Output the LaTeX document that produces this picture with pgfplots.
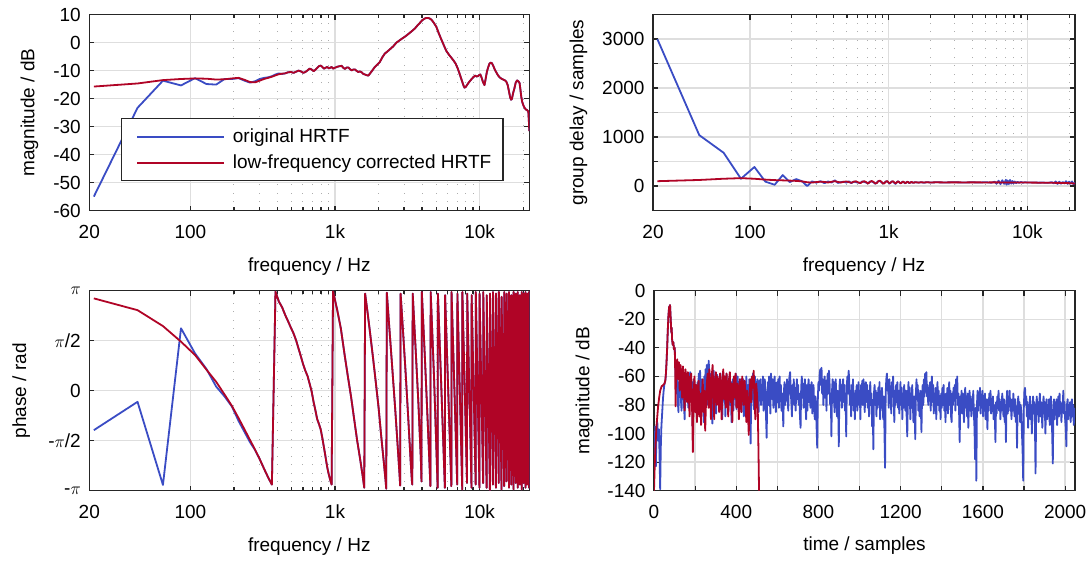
\documentclass[border=0pt]{standalone}
\usepackage{fontspec}
\setmainfont{Liberation Sans}
\usepackage{pgfplots}
\usepackage{pgfplotstable}
\pgfplotsset{compat=1.18}
\definecolor{cblue}{RGB}{58,76,196}
\definecolor{cred}{RGB}{176,4,38}
\definecolor{gridc}{RGB}{222,222,222}
\definecolor{axc}{RGB}{38,38,38}
\newcommand{\fs}{\fontsize{19}{23}\selectfont}
\pgfplotsset{
 hrtf/.style={scale only axis, anchor=south west, font=\fs,
  axis line style={axc,line width=1.5pt},
  tick style={axc,line width=1.2pt},
  major tick length=5pt, minor tick length=3.5pt,
  grid=major, major grid style={gridc,line width=1.3pt},
  minor grid style={black!32,line width=1pt,dash pattern=on 1pt off 7.5pt},
  xticklabel style={font=\fs, yshift=-11pt},
  yticklabel style={font=\fs, xshift=-5pt},
  every axis plot/.append style={line width=1.8pt, line join=round},
  xlabel style={font=\fs, at={(axis description cs:0.5,-0.2857)}, anchor=center},
  ylabel style={font=\fs},
 },
 hrtflegend/.style={
  legend style={draw=axc, line width=1.2pt, fill=white, font=\fs,
    inner xsep=9.7pt, inner ysep=8.5pt, row sep=6.75pt,
    /tikz/every odd column/.append style={column sep=6pt}},
  legend cell align=left,
  legend image code/.code={\path[draw=none,fill=none] (-6pt,-6.5pt) rectangle (87pt,0pt);\draw[##1] (0pt,0pt) -- (87pt,0pt);},
 },
}
\pgfplotstableread{
f v
452.2 -11.0
473.7 -10.6
495.3 -10.5
516.8 -10.8
538.3 -10.4
559.9 -10.0
581.4 -10.3
602.9 -10.8
624.5 -10.5
646 -9.9
667.5 -9.3
689.1 -9.6
710.6 -10.2
732.1 -9.7
753.7 -9.0
775.2 -8.4
796.7 -8.2
818.3 -8.7
839.8 -9.3
861.3 -9.0
882.9 -8.7
904.4 -9.2
925.9 -9.0
947.5 -8.7
969 -9.3
1027 -8.7
1060 -8.5
1111 -8.3
1140 -9.0
1172 -9.4
1205 -8.9
1236 -8.9
1270 -9.5
1303 -9.9
1340 -9.6
1374 -9.6
1410 -10.1
1449 -10.5
1490 -10.3
1527 -10.6
1570 -11.2
1610 -11.4
1650 -11.6
1698 -11.8
1730 -11.3
1761 -10.8
1887 -8.7
2043 -6.9
2120 -5.3
2212 -3.9
2300 -3.2
2395 -2.4
2520 -1.4
2662 0.0
2780 0.7
2882 1.3
3040 2.1
3204 3.0
3380 4.0
3562 5.0
3700 6.0
3856 7.0
4010 8.0
4174 8.6
4290 8.8
4400 8.8
4520 8.6
4638 8.2
4820 7.1
5022 5.6
5220 3.3
5436 1.1
5660 -1.0
5886 -3.0
6130 -4.3
6372 -5.4
6600 -6.4
6823 -7.5
7050 -9.2
7267 -11.1
7420 -12.5
7582 -14.0
7730 -15.3
7870 -16.1
8020 -15.8
8170 -15.2
8450 -14.1
8740 -13.2
9020 -12.4
9310 -11.8
9510 -12.1
9710 -12.0
9920 -11.6
10120 -11.4
10330 -12.6
10530 -14.0
10800 -15.2
11000 -13.0
11220 -10.5
11460 -8.8
11700 -7.5
11920 -7.2
12140 -7.3
12400 -8.2
12650 -9.3
13000 -10.5
13390 -11.7
13760 -12.4
14160 -12.9
14560 -13.2
14980 -13.5
15300 -14.0
15640 -15.2
15950 -17.4
16260 -19.6
16500 -20.4
16720 -20.1
17050 -18.0
17390 -16.4
17760 -14.3
18160 -13.5
18500 -13.8
18880 -14.4
19150 -16.8
19400 -19.3
19700 -21.2
20060 -22.4
20460 -23.3
20860 -23.9
21280 -24.1
21700 -24.6
21900 -28.0
22050 -31.6
}\magshared
\pgfplotstableread{
f v
409.1 2.80
430.7 2.62
452.2 2.38
473.7 2.18
495.3 1.98
516.8 1.80
538.3 1.58
559.9 1.32
581.4 1.07
602.9 0.82
624.5 0.62
646 0.46
667.5 0.22
689.1 -0.02
710.6 -0.35
732.1 -0.62
753.7 -0.90
775.2 -1.05
796.7 -1.22
818.3 -1.50
839.8 -1.80
861.3 -2.10
882.9 -2.40
904.4 -2.62
925.9 -2.80
947.5 -2.95
969 3.12
1034 2.55
1098 1.95
1163 1.15
1227 0.45
1292 -0.20
1357 -0.90
1421 -1.55
1486 -2.10
1550 -2.65
1593 -3.05
1615 3.05
1680 2.45
1744 1.85
1830 1.05
1916 0.25
2003 -0.55
2089 -1.45
2175 -2.25
2239 -2.85
2261 -3.08
2282 3.08
2368 2.05
2476 0.85
2605 -0.55
2713 -1.75
2799 -2.70
2821 -2.98
2842 3.05
2950 1.90
3079 0.55
3208 -0.85
3338 -2.25
3402 -2.85
3424 -2.95
3445 3.05
3596 1.45
3768 -0.35
3919 -2.10
3962 -2.85
3984 3.10
4177 1.10
4371 -0.95
4543 -2.75
4565 -3.00
4587 3.10
4845 0.35
5103 -2.80
5125 -3.05
5146 3.05
5448 -0.05
5749 -3.05
5771 3.00
6374 -3.00
6395 3.10
6998 -2.95
7020 3.05
7580 -3.10
7601 3.10
8182 -2.90
8204 3.05
8785 -3.05
8807 3.00
9388 -2.95
9410 3.10
9970 -3.05
9991 3.05
10572 -2.90
10594 3.10
11175 -3.05
11197 3.00
11778 -3.12
11800 3.05
12360 -2.95
12381 3.10
12962 -3.05
12984 3.05
13565 -2.90
13587 3.10
14168 -3.10
14190 2.95
14771 -3.00
14793 3.10
15353 -2.85
15374 3.05
15956 -3.05
15977 3.10
16558 -2.95
16580 3.00
17161 -3.10
17183 3.10
17764 -2.90
17786 3.05
18346 -3.05
18367 3.10
18948 -2.95
18970 3.00
19551 -3.10
19573 3.10
20154 -2.90
20176 3.05
20757 -3.05
20779 3.10
21339 -2.95
21360 3.05
21941 -3.05
21963 3.10
22050 2.20
}\phshared
\begin{document}
\begin{tikzpicture}
\useasboundingbox (0pt,0pt) rectangle (1088pt,561pt);
% ---------------- top left: magnitude
\begin{axis}[hrtf, hrtflegend, xmode=log, xmin=20, xmax=22050,
  xtick={20,100,1000,10000}, xticklabels={20,100,1k,10k},
  minor xtick={200,300,400,500,600,700,800,900,2000,3000,4000,5000,6000,7000,8000,9000,20000},
  xminorgrids=true, xlabel={frequency / Hz},
  /pgf/number format/assume math mode=true,
  at={(89.3pt,350.4pt)}, width=440pt, height=196pt,
  ymin=-60, ymax=10, ytick={-60,-50,...,10},
  ylabel={magnitude / dB},
  ylabel style={at={(axis description cs:-0.136,0.5)}, anchor=center},
  legend style={at={(axis description cs:0.0714,0.4725)}, anchor=north west},
]
\addplot[cblue] coordinates {(21.5,-55.0)(43.1,-23.3)(64.6,-13.6)(86.1,-15.3)(107.7,-12.7)(129.2,-14.8)(150.7,-15.0)(172.3,-13.0)(193.8,-13.0)(215.3,-12.7)(236.9,-13.6)(258.4,-14.3)(279.9,-13.8)(301.5,-13.0)(323,-12.6)(344.5,-12.4)(366.1,-12.0)(387.6,-11.4)(409.1,-11.0)(430.7,-11.2)(452.2,-11.0)};
\addlegendentry{original HRTF}
\addplot[cred] coordinates {(21.5,-15.7)(43.1,-14.6)(64.6,-13.4)(86.1,-13.0)(107.7,-12.8)(129.2,-12.9)(150.7,-13.2)(172.3,-13.1)(193.8,-12.8)(215.3,-12.6)(236.9,-13.3)(258.4,-14.1)(279.9,-14.2)(301.5,-13.6)(323,-13.0)(344.5,-12.6)(366.1,-12.2)(387.6,-11.7)(409.1,-11.3)(430.7,-11.1)(452.2,-11.0)};
\addlegendentry{low-frequency corrected HRTF}
\addplot[cblue, forget plot] table[x=f,y=v] {\magshared};
\addplot[cred, forget plot] table[x=f,y=v] {\magshared};
\end{axis}
% ---------------- top right: group delay
\begin{axis}[hrtf, xmode=log, xmin=20, xmax=22050,
  xtick={20,100,1000,10000}, xticklabels={20,100,1k,10k},
  minor xtick={200,300,400,500,600,700,800,900,2000,3000,4000,5000,6000,7000,8000,9000,20000},
  xminorgrids=true, xlabel={frequency / Hz},
  /pgf/number format/assume math mode=true,
  at={(653pt,350.4pt)}, width=422pt, height=196pt,
  ymin=-500, ymax=3500, ytick={-500,0,500,1000,1500,2000,2500,3000,3500},
  yticklabels={,0,,1000,,2000,,3000,},
  ylabel={group delay / samples},
  ylabel style={at={(axis description cs:-0.1765,0.5)}, anchor=center},
]
\addplot[cblue] coordinates {(21.5,3000)(43.1,1040)(64.6,680)(86.1,150)(107.7,390)(129.2,90)(150.7,27)(172.3,224)(193.8,82)(215.3,143)(236.9,100)(258.4,0)(279.9,95)(301.5,70)(323,100)(344.5,60)(366.1,95)(387.6,72)(409.1,118)(430.7,64)(452.2,80)(473.7,90)(495.3,70)(516.8,96)(538.3,60)(559.9,92)(581.4,80)(602.9,70)(624.5,64)(646,96)(667.5,86)(689.1,70)(710.6,58)(732.1,92)(753.7,96)(775.2,80)(796.7,52)(818.3,64)(839.8,100)(861.3,104)(882.9,84)(904.4,58)(925.9,60)(947.5,90)(969,98)(990.5,80)(1012,50)(1034,74)(1055,96)(1077,90)(1098,66)(1120,44)(1141,76)(1163,98)(1184,84)(1206,60)(1227,62)(1249,84)(1270,90)(1292,72)(1314,56)(1335,72)(1357,90)(1378,80)(1400,62)(1421,70)(1443,82)(1464,78)(1486,70)(1507,72)(1550,78)(1600,74)(1650,72)(1700,78)(1800,70)(1900,80)(2000,72)(2200,78)(2500,74)(3000,78)(3500,72)(4000,78)(4500,72)(5000,80)(5500,68)(5800,90)(6000,50)(6200,110)(6400,40)(6600,120)(6800,45)(7000,130)(7100,30)(7200,115)(7350,40)(7500,125)(7650,50)(7800,105)(7950,55)(8100,95)(8300,60)(8500,90)(8700,65)(9000,85)(9300,68)(9600,80)(10000,72)(11000,74)(12000,70)(13000,72)(14000,66)(15000,80)(15500,55)(16000,95)(16500,45)(17000,90)(17500,50)(18000,85)(18500,55)(19000,100)(19500,45)(20000,90)(20500,50)(21000,95)(21500,40)(22050,70)};
\addplot[cred] coordinates {(21.5,100)(43.1,125)(64.6,150)(86.1,162)(107.7,150)(129.2,132)(150.7,122)(172.3,117)(193.8,112)(215.3,106)(236.9,96)(258.4,78)(279.9,72)(301.5,82)(323,90)(344.5,84)(366.1,74)(387.6,88)(409.1,100)(430.7,84)(452.2,74)(473.7,86)(495.3,96)(516.8,80)(538.3,68)(559.9,88)(581.4,98)(602.9,76)(624.5,60)(646,86)(667.5,100)(689.1,80)(710.6,52)(732.1,82)(753.7,104)(775.2,88)(796.7,56)(818.3,58)(839.8,96)(861.3,112)(882.9,92)(904.4,60)(925.9,52)(947.5,82)(969,104)(990.5,86)(1012,58)(1034,68)(1055,92)(1077,98)(1098,74)(1120,56)(1141,70)(1163,94)(1184,90)(1206,66)(1227,58)(1249,78)(1270,92)(1292,80)(1314,62)(1335,66)(1357,84)(1378,86)(1400,70)(1421,64)(1443,76)(1464,84)(1486,76)(1507,66)(1529,70)(1550,80)(1600,76)(1650,70)(1700,78)(1800,74)(1900,78)(2000,74)(2200,77)(2500,75)(3000,76)(3500,75)(4000,76)(5000,75)(6000,76)(7000,74)(8000,72)(9000,74)(10000,72)(12000,70)(14000,68)(16000,66)(18000,64)(20000,60)(22050,52)};
\end{axis}
% ---------------- bottom left: phase
\begin{axis}[hrtf, xmode=log, xmin=20, xmax=22050,
  xtick={20,100,1000,10000}, xticklabels={20,100,1k,10k},
  minor xtick={200,300,400,500,600,700,800,900,2000,3000,4000,5000,6000,7000,8000,9000,20000},
  xminorgrids=true, xlabel={frequency / Hz},
  at={(89.3pt,70.3pt)}, width=440pt, height=200pt,
  ymin=-3.14159, ymax=3.14159, ytick={-3.14159,-1.570796,0,1.570796,3.14159},
  yticklabels={-$\pi$,-$\pi$/2,0,$\pi$/2,$\pi$},
  ylabel={phase / rad},
  ylabel style={at={(axis description cs:-0.155,0.5)}, anchor=center},
  xlabel style={at={(axis description cs:0.5,-0.277)}},
]
\addplot[cblue] coordinates {(21.5,-1.24)(43.1,-0.35)(64.6,-2.96)(86.1,1.96)(107.7,1.17)(129.2,0.68)(150.7,0.13)(172.3,-0.18)(193.8,-0.50)(215.3,-0.95)(236.9,-1.30)(258.4,-1.62)(279.9,-1.86)(301.5,-2.15)(323,-2.45)(344.5,-2.72)(366.1,-2.95)(387.6,3.11)(409.1,2.80)};
\addplot[cblue] table[x=f,y=v] {\phshared};
\addplot[cred] coordinates {(21.5,2.90)(43.1,2.53)(64.6,2.03)(86.1,1.54)(107.7,1.12)(129.2,0.66)(150.7,0.28)(172.3,-0.12)(193.8,-0.48)(215.3,-0.86)(236.9,-1.22)(258.4,-1.55)(279.9,-1.85)(301.5,-2.15)(323,-2.45)(344.5,-2.72)(366.1,-2.95)(387.6,3.11)(409.1,2.80)};
\addplot[cred] table[x=f,y=v] {\phshared};
\end{axis}
% ---------------- bottom right: impulse responses
\begin{axis}[hrtf, /pgf/number format/assume math mode=true,
  at={(654pt,70.3pt)}, width=421pt, height=200pt,
  xmin=0, xmax=2048, ymin=-140, ymax=0,
  xtick={0,200,...,2000}, xticklabels={0,,400,,800,,1200,,1600,,2000},
  ytick={-140,-120,...,0},
  xlabel={time / samples},
  xlabel style={at={(axis description cs:0.5,-0.2725)}},
  ylabel={magnitude / dB},
  ylabel style={at={(axis description cs:-0.165,0.5)}, anchor=center},
]
\addplot[cblue] coordinates {(0,-100)(3,-118)(6,-95)(9,-123)(12,-100)(16,-92)(20,-105)(24,-97)(27,-115)(30,-139)(33,-110)(36,-95)(40,-85)(44,-75)(47,-70)(50,-66)(53,-64)(56,-62)(58,-58)(61,-50)(64,-40)(67,-28)(70,-18)(72,-14)(74,-11)(76,-13)(78,-10)(80,-16)(82,-22)(84,-29)(86,-26)(88,-34)(91,-38)(94,-36)(97,-41)(101,-40)
(104,-55)(107,-66)(110,-72)(113,-60)(116,-78)(119,-85)(122,-64)(125,-70)(128,-58)(131,-76)
(134,-84)(137,-66)(140,-70)(143,-62)(146,-80)(149,-90)(152,-68)(155,-65)(158,-75)(161,-60)
(164,-72)(167,-82)(170,-66)(173,-68)(176,-57)(179,-74)(182,-78)(185,-64)(188,-95)(191,-70)
(194,-62)(197,-76)(200,-80)(203,-66)(206,-72)(209,-88)(212,-64)(215,-70)(218,-58)(221,-74)
(224,-56)(227,-68)(230,-85)(233,-62)(236,-72)(239,-70)(242,-92)(245,-60)(248,-66)(251,-55)
(254,-72)(257,-52)(260,-64)(263,-80)(266,-49)(269,-58)(272,-66)(275,-80)(278,-58)(281,-70)
(284,-93)(287,-64)(290,-56)(293,-72)(296,-78)(299,-60)(302,-86)(305,-68)(308,-59)(311,-75)
(314,-62)(317,-84)(320,-66)(323,-58)(326,-79)(329,-64)(332,-90)(335,-70)(338,-61)(341,-77)
(344,-60)(347,-88)(350,-66)(353,-58)(356,-74)(359,-63)(362,-85)(365,-69)(368,-60)(371,-80)
(374,-64)(377,-92)(380,-70)(383,-62)(386,-84)(389,-74)(392,-60)(395,-76)(398,-58)(401,-83)
(404,-68)(407,-60)(410,-78)(413,-64)(416,-81)(419,-62)(422,-70)(425,-85)(428,-63)(431,-72)
(434,-62)(437,-88)(440,-72)(443,-64)(446,-80)(449,-60)(452,-72)(455,-86)(458,-66)(461,-76)
(464,-62)(467,-80)(470,-107)(473,-70)(476,-60)(479,-76)(482,-58)(485,-83)(488,-68)(491,-60)
(494,-78)(497,-64)(500,-81)(503,-62)(506,-70)(509,-85)(512,-63)(515,-72)(518,-62)(521,-80)
(524,-66)(527,-74)(530,-60)(533,-84)(536,-68)(539,-62)(542,-76)(545,-88)(548,-103)(551,-72)
(554,-64)(557,-80)(560,-60)(563,-72)(566,-86)(569,-58)(572,-66)(575,-76)(578,-62)(581,-82)
(584,-68)(587,-60)(590,-74)(593,-85)(596,-70)(599,-64)(602,-78)(605,-62)(608,-82)(611,-60)
(614,-74)(617,-66)(620,-84)(623,-72)(626,-80)(629,-95)(632,-70)(635,-64)(638,-80)(641,-66)
(644,-77)(647,-62)(650,-74)(653,-84)(656,-66)(659,-60)(662,-57)(665,-70)(668,-78)(671,-88)
(674,-66)(677,-74)(680,-62)(683,-80)(686,-68)(689,-84)(692,-70)(695,-62)(698,-76)(701,-66)
(704,-80)(707,-72)(710,-88)(713,-96)(716,-68)(719,-60)(722,-75)(725,-65)(728,-82)(731,-70)
(734,-62)(737,-78)(740,-90)(743,-66)(746,-84)(749,-70)(752,-62)(755,-78)(758,-66)(761,-82)
(764,-70)(767,-64)(770,-86)(773,-74)(776,-66)(779,-80)(782,-90)(785,-74)(788,-82)(791,-96)
(794,-110)(797,-76)(800,-64)(803,-70)(806,-58)(809,-55)(812,-66)(815,-54)(818,-72)(821,-62)
(824,-80)(827,-66)(830,-60)(833,-75)(836,-63)(839,-84)(842,-66)(845,-58)(848,-72)(851,-56)
(854,-64)(857,-80)(860,-72)(863,-102)(866,-70)(869,-62)(872,-78)(875,-64)(878,-85)(881,-70)
(884,-62)(887,-76)(890,-88)(893,-70)(896,-80)(899,-109)(902,-68)(905,-62)(908,-77)(911,-66)
(914,-82)(917,-70)(920,-62)(923,-78)(926,-66)(929,-84)(932,-72)(935,-102)(938,-66)(941,-60)
(944,-72)(947,-56)(950,-64)(953,-80)(956,-70)(959,-88)(962,-66)(965,-76)(968,-62)(971,-84)
(974,-72)(977,-90)(980,-70)(983,-78)(986,-66)(989,-84)(992,-74)(995,-64)(998,-80)(1001,-70)
(1004,-90)(1007,-66)(1010,-74)(1013,-63)(1016,-80)(1019,-62)(1022,-70)(1025,-85)(1028,-72)(1031,-64)
(1034,-78)(1037,-66)(1040,-82)(1043,-70)(1046,-88)(1049,-74)(1052,-64)(1055,-80)(1058,-72)(1061,-95)
(1064,-80)(1067,-111)(1070,-72)(1073,-66)(1076,-80)(1079,-70)(1082,-88)(1085,-72)(1088,-82)(1091,-68)
(1094,-78)(1097,-64)(1100,-90)(1103,-74)(1106,-82)(1109,-68)(1112,-78)(1115,-90)(1118,-74)(1121,-98)
(1124,-124)(1127,-72)(1130,-62)(1133,-58)(1136,-70)(1139,-66)(1142,-82)(1145,-62)(1148,-74)(1151,-68)
(1154,-86)(1157,-64)(1160,-74)(1163,-60)(1166,-76)(1169,-92)(1172,-70)(1175,-80)(1178,-66)(1181,-74)
(1184,-64)(1187,-82)(1190,-70)(1193,-86)(1196,-74)(1199,-64)(1202,-80)(1205,-68)(1208,-90)(1211,-72)
(1214,-82)(1217,-66)(1220,-76)(1223,-84)(1226,-70)(1229,-88)(1232,-102)(1235,-74)(1238,-64)(1241,-80)
(1244,-68)(1247,-90)(1250,-72)(1253,-82)(1256,-66)(1259,-78)(1262,-92)(1265,-74)(1268,-86)(1271,-104)
(1274,-72)(1277,-62)(1280,-76)(1283,-66)(1286,-84)(1289,-72)(1292,-88)(1295,-70)(1298,-80)(1301,-99)
(1304,-74)(1307,-66)(1310,-80)(1313,-62)(1316,-74)(1319,-58)(1322,-70)(1325,-57)(1328,-74)(1331,-66)
(1334,-80)(1337,-68)(1340,-76)(1343,-64)(1346,-84)(1349,-70)(1352,-60)(1355,-78)(1358,-66)(1361,-86)
(1364,-72)(1367,-80)(1370,-68)(1373,-90)(1376,-72)(1379,-64)(1382,-80)(1385,-70)(1388,-84)(1391,-74)
(1394,-90)(1397,-72)(1400,-82)(1403,-68)(1406,-76)(1409,-66)(1412,-84)(1415,-74)(1418,-92)(1421,-72)
(1424,-80)(1427,-68)(1430,-86)(1433,-74)(1436,-64)(1439,-80)(1442,-70)(1445,-88)(1448,-92)(1451,-72)
(1454,-80)(1457,-68)(1460,-76)(1463,-66)(1466,-84)(1469,-62)(1472,-74)(1475,-60)(1478,-80)(1481,-72)
(1484,-84)(1487,-106)(1490,-74)(1493,-82)(1496,-70)(1499,-86)(1502,-72)(1505,-80)(1508,-92)(1511,-74)
(1514,-68)(1517,-82)(1520,-76)(1523,-88)(1526,-72)(1529,-96)(1532,-80)(1535,-70)(1538,-84)(1541,-74)
(1544,-88)(1547,-76)(1550,-82)(1553,-70)(1556,-86)(1559,-96)(1562,-118)(1565,-82)(1568,-133)(1571,-80)
(1574,-70)(1577,-84)(1580,-72)(1583,-78)(1586,-68)(1589,-86)(1592,-74)(1595,-82)(1598,-70)(1601,-88)
(1604,-74)(1607,-80)(1610,-72)(1613,-90)(1616,-76)(1619,-84)(1622,-97)(1625,-76)(1628,-84)(1631,-72)
(1634,-80)(1637,-70)(1640,-86)(1643,-76)(1646,-82)(1649,-74)(1652,-90)(1655,-80)(1658,-88)(1661,-106)
(1664,-78)(1667,-86)(1670,-74)(1673,-80)(1676,-70)(1679,-84)(1682,-76)(1685,-90)(1688,-78)(1691,-84)
(1694,-72)(1697,-80)(1700,-88)(1703,-76)(1706,-92)(1709,-80)(1712,-106)(1715,-78)(1718,-70)(1721,-86)
(1724,-74)(1727,-80)(1730,-70)(1733,-84)(1736,-76)(1739,-90)(1742,-78)(1745,-84)(1748,-72)(1751,-80)
(1754,-88)(1757,-76)(1760,-92)(1763,-82)(1766,-110)(1769,-80)(1772,-74)(1775,-86)(1778,-78)(1781,-92)
(1784,-80)(1787,-86)(1790,-100)(1793,-112)(1796,-133)(1799,-82)(1802,-70)(1805,-68)(1808,-80)(1811,-74)
(1814,-88)(1817,-78)(1820,-96)(1823,-80)(1826,-86)(1829,-74)(1832,-90)(1835,-80)(1838,-100)(1841,-84)
(1844,-74)(1847,-86)(1850,-78)(1853,-92)(1856,-128)(1859,-84)(1862,-74)(1865,-86)(1868,-78)(1871,-92)
(1874,-80)(1877,-72)(1880,-88)(1883,-78)(1886,-84)(1889,-96)(1892,-80)(1895,-74)(1898,-86)(1901,-78)
(1904,-100)(1907,-82)(1910,-76)(1913,-90)(1916,-80)(1919,-86)(1922,-76)(1925,-94)(1928,-82)(1931,-74)
(1934,-88)(1937,-100)(1940,-121)(1943,-82)(1946,-76)(1949,-90)(1952,-80)(1955,-86)(1958,-76)(1961,-94)
(1964,-82)(1967,-74)(1970,-88)(1973,-72)(1976,-86)(1979,-78)(1982,-92)(1985,-80)(1988,-84)(1991,-70)
(1994,-86)(1997,-78)(2000,-90)(2003,-96)(2006,-109)(2009,-80)(2012,-76)(2015,-90)(2018,-80)(2021,-84)
(2024,-78)(2027,-92)(2030,-82)(2033,-76)(2036,-88)(2039,-80)(2042,-94)(2045,-84)(2047,-82)};
\addplot[cred] coordinates {(0,-140)(3,-125)(7,-109)(12,-95)(16,-88)(20,-81)(25,-75)(30,-70)(37,-67)(44,-66)(51,-65)(55,-63)(58,-58)(61,-50)(64,-40)(67,-28)(70,-18)(72,-14)(74,-11)(76,-13)(78,-10)(80,-16)(82,-22)(84,-29)(86,-26)(88,-34)(91,-38)(94,-36)(97,-41)(101,-40)(103,-55)(105,-81)(107,-60)(110,-52)
(113,-48)(117,-62)(121,-50)(125,-70)(129,-52)(133,-58)(137,-75)(141,-53)(145,-66)(149,-84)
(153,-55)(157,-62)(161,-78)(165,-57)(169,-70)(173,-88)(177,-60)(181,-58)(185,-80)(189,-113)
(193,-72)(197,-60)(201,-85)(205,-66)(209,-92)(213,-70)(217,-63)(221,-88)(225,-72)(229,-94)
(233,-75)(237,-62)(241,-85)(245,-70)(249,-98)(253,-78)(257,-65)(261,-58)(265,-82)(269,-55)
(273,-70)(277,-90)(281,-60)(285,-52)(289,-75)(293,-90)(297,-62)(301,-57)(305,-80)(309,-60)
(313,-70)(317,-85)(321,-58)(325,-68)(329,-90)(333,-62)(337,-55)(341,-76)(345,-60)(349,-82)
(353,-58)(357,-72)(361,-88)(365,-62)(369,-57)(373,-78)(377,-65)(381,-92)(385,-68)(389,-60)
(393,-75)(397,-58)(401,-82)(405,-65)(409,-73)(413,-90)(417,-62)(421,-70)(425,-85)(429,-60)
(433,-67)(437,-80)(441,-63)(445,-74)(449,-92)(453,-70)(457,-85)(461,-101)(465,-72)(469,-62)
(473,-78)(477,-60)(481,-68)(485,-56)(489,-75)(493,-90)(497,-65)(501,-72)(505,-85)(508,-110)(511,-140)};
\end{axis}
\end{tikzpicture}
\end{document}
